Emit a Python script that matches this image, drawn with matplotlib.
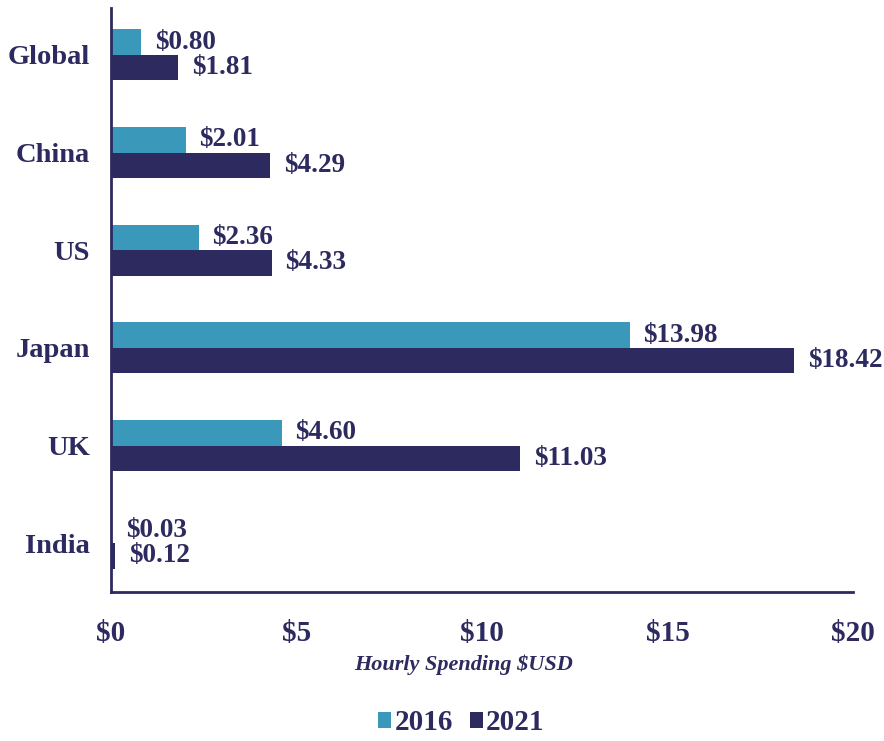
import matplotlib
matplotlib.use("Agg")
import matplotlib.pyplot as plt
import numpy as np

categories = ["Global", "China", "US", "Japan", "UK", "India"]
values_2016 = [0.80, 2.01, 2.36, 13.98, 4.60, 0.03]
values_2021 = [1.81, 4.29, 4.33, 18.42, 11.03, 0.12]
series_names = ["2016", "2021"]
xticks = [0, 5, 10, 15, 20]
xtick_labels = ["$0", "$5", "$10", "$15", "$20"]

c16 = "#3A98BA"
c21 = "#2C2A5E"
txt = "#2C2A5E"

plt.rcParams['font.family'] = ['Liberation Serif', 'DejaVu Serif']
plt.rcParams['font.weight'] = 'bold'

fig = plt.figure(figsize=(8.84, 7.41), dpi=100)
ax = fig.add_axes([111/884, 1-592/741, (853-111)/884, (592-8)/741])

y = np.arange(len(categories))
h = 0.26
b1 = ax.barh(y - h/2, values_2016, height=h, color=c16, label=series_names[0])
b2 = ax.barh(y + h/2, values_2021, height=h, color=c21, label=series_names[1])

for yi, v in zip(y, values_2016):
    ax.annotate(f"${v:.2f}", xy=(v, yi - h/2), xytext=(10, 0), textcoords="offset points",
                va="center", ha="left", fontsize=19.5, fontweight="bold", color=txt)
for yi, v in zip(y, values_2021):
    ax.annotate(f"${v:.2f}", xy=(v, yi + h/2), xytext=(10, 0), textcoords="offset points",
                va="center", ha="left", fontsize=19.5, fontweight="bold", color=txt)

ax.set_xlim(0, 20)
ax.set_ylim(5.5, -0.48)
ax.set_yticks(y)
ax.set_yticklabels(categories, fontsize=20.5, fontweight="bold", color=txt)
ax.set_xticks(xticks)
ax.set_xticklabels(xtick_labels, fontsize=21, fontweight="bold", color=txt)
ax.tick_params(axis="y", length=0, pad=15)
ax.tick_params(axis="x", length=0, pad=20)

for s in ["top", "right"]:
    ax.spines[s].set_visible(False)
for s in ["left", "bottom"]:
    ax.spines[s].set_color(c21)
    ax.spines[s].set_linewidth(2)

ax.set_xlabel("Hourly Spending $USD", fontsize=16, fontstyle="italic", fontweight="bold",
              color=txt)
ax.xaxis.set_label_coords(0.475, -0.107)

leg = fig.legend(handles=[b1, b2], labels=series_names, loc="center", bbox_to_anchor=(0.522, 1-723/741),
                 ncol=2, frameon=False, fontsize=21, handlelength=0.45, handleheight=0.45,
                 handletextpad=0.1, columnspacing=0.6)
for t in leg.get_texts():
    t.set_color(txt)
    t.set_fontweight("bold")

fig.savefig("out.png", dpi=100)
